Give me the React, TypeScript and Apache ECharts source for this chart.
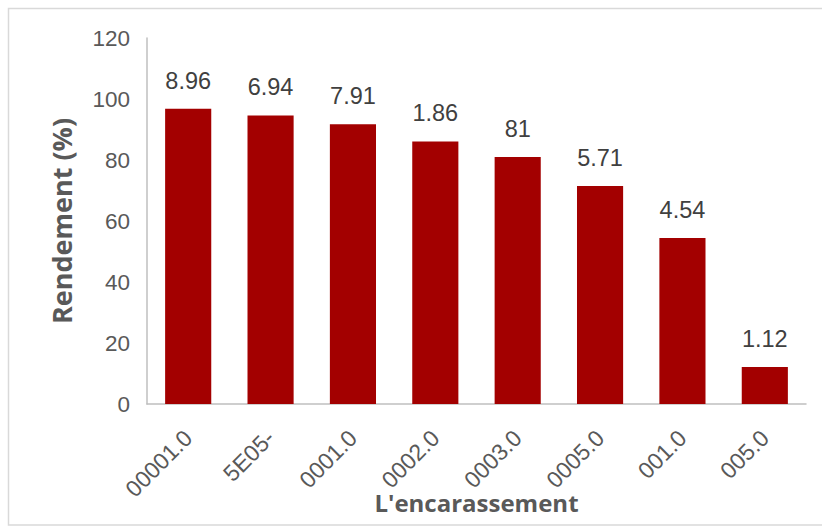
import React, { useEffect, useRef } from "react";
import * as echarts from "echarts";

const categories = ["00001.0", "5E05-", "0001.0", "0002.0", "0003.0", "0005.0", "001.0", "005.0"];
const values = [96.8, 94.6, 91.7, 86.1, 81, 71.5, 54.4, 12.1];
const valueLabels = ["8.96", "6.94", "7.91", "1.86", "81", "5.71", "4.54", "1.12"];
const yTicks = { min: 0, max: 120, interval: 20 };

export default function App() {
  const ref = useRef<HTMLDivElement>(null);
  useEffect(() => {
    if (!ref.current) return;
    const chart = echarts.init(ref.current, null, { renderer: "svg" });
    chart.setOption({
      animation: false,
      backgroundColor: "#ffffff",
      graphic: [
        {
          type: "rect",
          shape: { x: 8.5, y: 8.5, width: 830, height: 516.5 },
          style: { fill: "none", stroke: "#d9d9d9", lineWidth: 1.5 },
          silent: true,
        },
      ],
      grid: { left: 147, right: 16, top: 38, bottom: 122, containLabel: false, outerBoundsMode: "none" },
      xAxis: {
        type: "category",
        data: categories,
        name: "L'encarassement",
        nameLocation: "middle",
        nameGap: 86,
        nameMoveOverlap: false,
        nameTextStyle: { fontFamily: "Open Sans", fontWeight: "bold", fontSize: 24, color: "#595959" },
        axisLine: { lineStyle: { color: "#bfbfbf", width: 1.5 } },
        axisTick: { show: false },
        axisLabel: {
          rotate: 45,
          margin: 30,
          fontFamily: "Liberation Sans, Arial",
          fontSize: 23,
          color: "#595959",
        },
      },
      yAxis: {
        type: "value",
        min: yTicks.min,
        max: yTicks.max,
        interval: yTicks.interval,
        name: "Rendement (%)",
        nameLocation: "middle",
        nameGap: 72,
        nameMoveOverlap: false,
        nameTextStyle: { fontFamily: "Open Sans", fontWeight: "bold", fontSize: 27, color: "#595959" },
        axisLine: { show: true, lineStyle: { color: "#bfbfbf", width: 1.5 } },
        axisTick: { show: false },
        splitLine: { show: false },
        axisLabel: {
          margin: 17,
          fontFamily: "Liberation Sans, Arial",
          fontSize: 22.5,
          color: "#595959",
        },
      },
      series: [
        {
          type: "bar",
          data: values,
          barWidth: "56%",
          itemStyle: { color: "#a30000" },
          label: {
            show: true,
            position: "top",
            distance: 16,
            fontFamily: "Liberation Sans, Arial",
            fontSize: 23.5,
            color: "#404040",
            formatter: (p: any) => valueLabels[p.dataIndex],
          },
        },
      ],
    });
    return () => chart.dispose();
  }, []);
  return (
    <div
      ref={ref}
      style={{ position: "fixed", left: 0, top: 0, width: 822, height: 526 }}
    />
  );
}
